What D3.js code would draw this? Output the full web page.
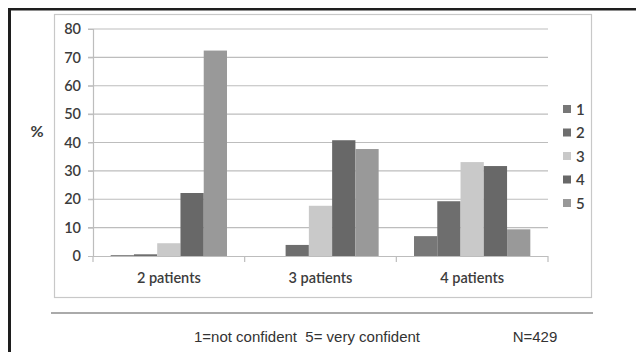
<!DOCTYPE html>
<html><head><meta charset="utf-8">
<script src="https://cdn.jsdelivr.net/npm/d3@7"></script>
<style>body{margin:0;background:#fff}svg{display:block}text{white-space:pre}</style>
</head><body>
<script>
const categories = ["2 patients", "3 patients", "4 patients"];
const seriesNames = ["1", "2", "3", "4", "5"];
const s1 = [0.3, 0, 7.0];
const s2 = [0.6, 3.9, 19.3];
const s3 = [4.5, 17.7, 33.1];
const s4 = [22.2, 40.8, 31.7];
const s5 = [72.4, 37.7, 9.4];
const yTicks = [0, 10, 20, 30, 40, 50, 60, 70, 80];
const colors = ["#777777", "#6e6e6e", "#c9c9c9", "#686868", "#999999"];
const seriesValues = [s1, s2, s3, s4, s5];

const W = 636, H = 352;
const svg = d3.select("body").append("svg").attr("width", W).attr("height", H);
const tickFont = "Lato, 'Open Sans', sans-serif";
const txt = "#3c3c3c";

// outer black frame (top + left)
svg.append("rect").attr("x", 8).attr("y", 8).attr("width", W - 8).attr("height", 2.5).attr("fill", "#1e1e1e");
svg.append("rect").attr("x", 8).attr("y", 8).attr("width", 3).attr("height", H - 8).attr("fill", "#1e1e1e");

// inner chart frame
svg.append("rect").attr("x", 54.5).attr("y", 14.5).attr("width", 537).attr("height", 283)
  .attr("fill", "none").attr("stroke", "#c8c8c8").attr("stroke-width", 1.2);

const x0 = d3.scaleBand().domain(categories).range([93, 548]).paddingInner(0).paddingOuter(0);
const x1 = d3.scaleBand().domain(seriesNames).range([0, x0.bandwidth()]).paddingInner(0).paddingOuter(0.76);
const y = d3.scaleLinear().domain([0, 80]).range([256, 29]);

// gridlines
svg.append("g").selectAll("line").data(yTicks.filter(d => d > 0)).join("line")
  .attr("x1", 88).attr("x2", 548).attr("y1", d => y(d)).attr("y2", d => y(d))
  .attr("stroke", "#bdbdbd").attr("stroke-width", 1.2);

// y axis
const yAxis = d3.axisLeft(y).tickValues(yTicks).tickSize(5).tickPadding(7);
const gy = svg.append("g").attr("transform", "translate(93,0)").call(yAxis);
gy.select(".domain").attr("stroke", "#bdbdbd").attr("stroke-width", 1.2);
gy.selectAll(".tick line").attr("stroke", "#bdbdbd");
gy.selectAll("text").attr("font-family", tickFont).attr("font-size", 14.5).attr("font-weight", 600).attr("fill", txt);

// bars
const groups = svg.append("g").selectAll("g").data(categories).join("g")
  .attr("transform", d => `translate(${x0(d)},0)`);
groups.selectAll("rect").data((c, ci) => seriesNames.map((s, si) => ({s, si, v: seriesValues[si][ci]})))
  .join("rect")
  .attr("x", d => x1(d.s)).attr("width", x1.bandwidth())
  .attr("y", d => y(d.v)).attr("height", d => y(0) - y(d.v))
  .attr("fill", d => colors[d.si]);

// x axis
const xAxis = d3.axisBottom(x0).tickSize(0).tickPadding(17);
const gx = svg.append("g").attr("transform", "translate(0,256)").call(xAxis);
gx.select(".domain").attr("stroke", "#bdbdbd").attr("stroke-width", 1.2).attr("d", "M88,0.5H548");
gx.selectAll("text").attr("font-family", tickFont).attr("font-size", 14.5).attr("font-weight", 600).attr("fill", txt);
// category separator ticks
svg.append("g").selectAll("line").data([0, 1, 2, 3]).join("line")
  .attr("x1", i => i < 3 ? x0(categories[i]) : x0.range()[1])
  .attr("x2", i => i < 3 ? x0(categories[i]) : x0.range()[1])
  .attr("y1", 256).attr("y2", 262).attr("stroke", "#bdbdbd").attr("stroke-width", 1.2);

// % label
svg.append("text").attr("x", 37).attr("y", 137).attr("text-anchor", "middle")
  .attr("font-family", tickFont).attr("font-size", 16).attr("font-weight", "bold").attr("fill", txt).text("%");

// legend
const lg = svg.append("g").selectAll("g").data(seriesNames).join("g")
  .attr("transform", (d, i) => `translate(563,${109 + i * 23.5})`);
lg.append("rect").attr("x", 0).attr("y", -4).attr("width", 8).attr("height", 8).attr("fill", (d, i) => colors[i]);
lg.append("text").attr("x", 13).attr("y", 5.5).attr("font-family", tickFont).attr("font-size", 15).attr("font-weight", 600)
  .attr("fill", txt).text(d => d);

// rule
svg.append("line").attr("x1", 51).attr("x2", 593).attr("y1", 313).attr("y2", 313)
  .attr("stroke", "#aaaaaa").attr("stroke-width", 2);

// footer
svg.append("text").attr("x", 307).attr("y", 342).attr("text-anchor", "middle")
  .attr("font-family", "'Liberation Sans', Arial, sans-serif").attr("font-size", 15).attr("fill", "#333")
  .text("1=not confident  5= very confident");
svg.append("text").attr("x", 535).attr("y", 342).attr("text-anchor", "middle")
  .attr("font-family", "'Liberation Sans', Arial, sans-serif").attr("font-size", 15).attr("fill", "#333")
  .text("N=429");
</script>
</body></html>
